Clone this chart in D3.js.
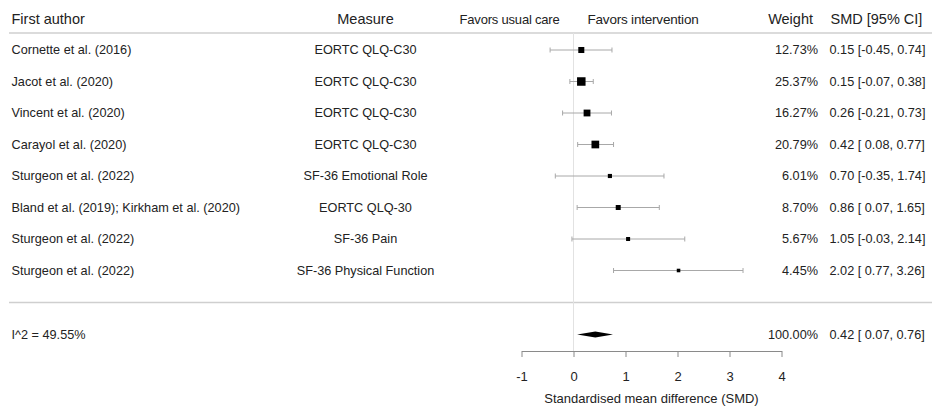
<!DOCTYPE html>
<html>
<head>
<meta charset="utf-8">
<script src="https://cdn.jsdelivr.net/npm/d3@7"></script>
<style>
  body { margin: 0; background: #fff; }
  svg { display: block; font-family: "Liberation Sans", Arial, sans-serif; }
  text { fill: #222; white-space: pre; }
</style>
</head>
<body>
<div id="chart"></div>
<script>
// study rows
var authors = ["Cornette et al. (2016)", "Jacot et al. (2020)", "Vincent et al. (2020)",
  "Carayol et al. (2020)", "Sturgeon et al. (2022)", "Bland et al. (2019); Kirkham et al. (2020)",
  "Sturgeon et al. (2022)", "Sturgeon et al. (2022)"];
var measures = ["EORTC QLQ-C30", "EORTC QLQ-C30", "EORTC QLQ-C30", "EORTC QLQ-C30",
  "SF-36 Emotional Role", "EORTC QLQ-30", "SF-36 Pain", "SF-36 Physical Function"];
var smd   = [0.15, 0.15, 0.26, 0.42, 0.70, 0.86, 1.05, 2.02];
var lower = [-0.45, -0.07, -0.21, 0.08, -0.35, 0.07, -0.03, 0.77];
var upper = [0.74, 0.38, 0.73, 0.77, 1.74, 1.65, 2.14, 3.26];
var weights = [12.73, 25.37, 16.27, 20.79, 6.01, 8.70, 5.67, 4.45];

// pooled estimate
var pooled = {smd: 0.42, lower: 0.07, upper: 0.76, weight: 100.00};
var i2 = 49.55;

var xTicks = [-1, 0, 1, 2, 3, 4];
var headers = ["First author", "Measure", "Weight", "SMD [95% CI]"];

var width = 932, height = 412;

// plain hyphen for negatives, like the original plot
var loc = d3.formatLocale({decimal: ".", thousands: ",", grouping: [3], currency: ["", ""], minus: "-"});
var f2 = loc.format(".2f");
var fInt = loc.format("d");
var pad = function(v) { return (v >= 0 ? " " : "") + f2(v); };

var svg = d3.select("#chart").append("svg")
    .attr("width", width)
    .attr("height", height);

svg.append("rect").attr("width", width).attr("height", height).attr("fill", "#fff");

var x = d3.scaleLinear().domain([-1, 4]).range([521.5, 781.5]);
var y = d3.scalePoint().domain(d3.range(authors.length)).range([50, 270.5]);
var size = d3.scaleSqrt().domain([0, d3.max(weights)]).range([0, 8.5]);

var colAuthor = 11.5, colMeasure = 365.5, colWeight = 818, colSmd = 829.5;
var topLine = 33, bottomLine = 302.5, summaryY = 334.5, axisY = 351;

// header
svg.append("text").attr("x", colAuthor).attr("y", 19).attr("dy", "0.35em")
    .style("font-size", "14.5px").text(headers[0]);
svg.append("text").attr("x", colMeasure).attr("y", 19).attr("dy", "0.35em")
    .attr("text-anchor", "middle").style("font-size", "14.5px").text(headers[1]);
svg.append("text").attr("x", 813).attr("y", 19).attr("dy", "0.35em")
    .attr("text-anchor", "end").style("font-size", "14.5px").text(headers[2]);
svg.append("text").attr("x", 830.5).attr("y", 19).attr("dy", "0.35em")
    .style("font-size", "14.5px").text(headers[3]);
svg.append("text").attr("x", x(0) - 14).attr("y", 19).attr("dy", "0.35em")
    .attr("text-anchor", "end").style("font-size", "13px").style("letter-spacing", "-0.2px")
    .text("Favors usual care");
svg.append("text").attr("x", x(0) + 14).attr("y", 19).attr("dy", "0.35em")
    .style("font-size", "13.5px").style("letter-spacing", "-0.2px")
    .text("Favors intervention");

// separators
[topLine, bottomLine].forEach(function(ly) {
  svg.append("line").attr("x1", 9).attr("x2", width).attr("y1", ly).attr("y2", ly)
      .attr("stroke", "#cfcfcf").attr("stroke-width", 1.5);
});

// zero line
svg.append("line").attr("x1", x(0)).attr("x2", x(0))
    .attr("y1", topLine).attr("y2", axisY)
    .attr("stroke", "#e2e2e2").attr("stroke-width", 1);

var rows = svg.selectAll("g.row").data(d3.range(authors.length)).enter()
    .append("g").attr("class", "row")
    .attr("transform", function(i) { return "translate(0," + y(i) + ")"; });

rows.append("text").attr("x", colAuthor).attr("dy", "0.35em")
    .style("font-size", "12.7px").text(function(i) { return authors[i]; });
rows.append("text").attr("x", colMeasure).attr("dy", "0.35em").attr("text-anchor", "middle")
    .style("font-size", "12.7px").text(function(i) { return measures[i]; });
rows.append("text").attr("x", colWeight).attr("dy", "0.35em").attr("text-anchor", "end")
    .style("font-size", "12.7px").text(function(i) { return f2(weights[i]) + "%"; });
rows.append("text").attr("x", colSmd).attr("dy", "0.35em")
    .style("font-size", "12.7px")
    .text(function(i) { return f2(smd[i]) + " [" + pad(lower[i]) + ", " + f2(upper[i]) + "]"; });

// CI whiskers
rows.append("line")
    .attr("x1", function(i) { return x(lower[i]); })
    .attr("x2", function(i) { return x(upper[i]); })
    .attr("stroke", "#a8a8a8").attr("stroke-width", 1);
rows.selectAll("line.cap").data(function(i) { return [lower[i], upper[i]]; }).enter()
    .append("line").attr("class", "cap")
    .attr("x1", function(d) { return x(d); }).attr("x2", function(d) { return x(d); })
    .attr("y1", -2.5).attr("y2", 2.5)
    .attr("stroke", "#a8a8a8").attr("stroke-width", 1);

// weighted squares
rows.append("rect")
    .attr("x", function(i) { return x(smd[i]) - size(weights[i]) / 2; })
    .attr("y", function(i) { return -size(weights[i]) / 2; })
    .attr("width", function(i) { return size(weights[i]); })
    .attr("height", function(i) { return size(weights[i]); })
    .attr("fill", "#000");

// summary row
svg.append("text").attr("x", colAuthor).attr("y", summaryY).attr("dy", "0.35em")
    .style("font-size", "12.7px").text("I^2 = " + f2(i2) + "%");
svg.append("text").attr("x", colWeight).attr("y", summaryY).attr("dy", "0.35em")
    .attr("text-anchor", "end").style("font-size", "12.7px").text(f2(pooled.weight) + "%");
svg.append("text").attr("x", colSmd).attr("y", summaryY).attr("dy", "0.35em")
    .style("font-size", "12.7px")
    .text(f2(pooled.smd) + " [" + pad(pooled.lower) + ", " + f2(pooled.upper) + "]");

var diamond = [[x(pooled.lower), summaryY], [x(pooled.smd), summaryY - 3],
  [x(pooled.upper), summaryY], [x(pooled.smd), summaryY + 3]];
svg.append("path").attr("d", d3.line()(diamond) + "Z").attr("fill", "#000");

// x axis
var xAxis = d3.axisBottom(x).tickValues(xTicks).tickSize(6).tickSizeOuter(0)
    .tickPadding(15).tickFormat(fInt);
var gx = svg.append("g").attr("transform", "translate(0," + axisY + ")").call(xAxis);
gx.select(".domain").attr("stroke", "#8a8a8a");
gx.selectAll(".tick line").attr("stroke", "#8a8a8a");
gx.selectAll(".tick text").style("font-size", "13px")
    .style("font-family", "'Liberation Sans', Arial, sans-serif").attr("fill", "#222");

svg.append("text").attr("x", x(1.5)).attr("y", 398).attr("dy", "0.35em")
    .attr("text-anchor", "middle").style("font-size", "13px")
    .text("Standardised mean difference (SMD)");
</script>
</body>
</html>
